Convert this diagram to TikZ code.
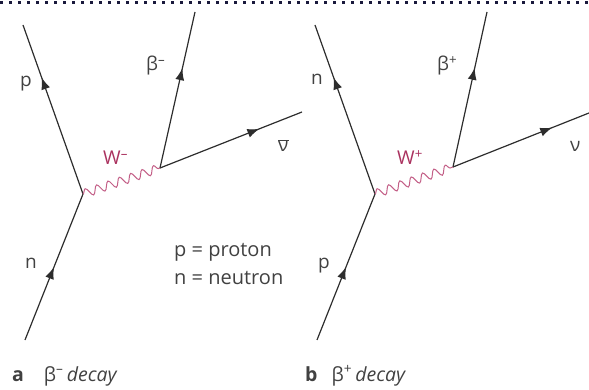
\documentclass[tikz,border=0pt]{standalone}
\usepackage{fontspec}
\setmainfont{Open Sans}
\usetikzlibrary{arrows.meta, decorations.pathmorphing, decorations.markings}
\usepackage{xcolor}
\definecolor{wcol}{RGB}{170,50,95}
\definecolor{wline}{RGB}{195,95,135}
\definecolor{lncol}{RGB}{45,45,45}
\definecolor{txtcol}{RGB}{65,65,65}
\definecolor{dotcol}{RGB}{25,25,60}

\begin{document}
\begin{tikzpicture}[
    x=1pt, y=-1pt,
    fermion/.style={draw=lncol, line width=1.2pt, postaction={decorate},
        decoration={markings, mark=at position #1 with {\arrow{Latex[length=12pt,width=9pt]}}}},
    boson/.style={draw=wline, line width=1pt, decorate,
        decoration={snake, amplitude=4.3pt, segment length=12pt}},
    lbl/.style={font=\fontsize{19}{21}\selectfont, text=txtcol, inner sep=0pt, anchor=base west},
    wlbl/.style={lbl, text=wcol},
    keytxt/.style={lbl, font=\fontsize{20}{22}\selectfont},
    capt/.style={lbl, font=\fontsize{19.5}{22}\selectfont}
]
    \useasboundingbox (0,0) rectangle (589,390);

    % Border
    \coordinate (top-l) at (0,3);
    \coordinate (top-r) at (589,3);
    \draw[dotcol, line width=3pt, dash pattern=on 3pt off 6pt] (top-l) -- (top-r);

    % a: beta minus decay
    \coordinate (a-in) at (25,340);
    \coordinate (a-low) at (83,194);
    \coordinate (a-out) at (23,25);
    \coordinate (a-up) at (160,168);
    \coordinate (a-beta) at (195,12);
    \coordinate (a-nu) at (302,112);

    \draw[fermion=0.5] (a-in) -- (a-low);
    \draw[fermion=0.69] (a-low) -- (a-out);
    \draw[fermion=0.64] (a-up) -- (a-beta);
    \draw[fermion=0.7] (a-up) -- (a-nu);
    \draw[boson] (a-low) -- (a-up);

    \node[lbl] (a-nlbl) at (25,268) {n};
    \node[lbl] (a-plbl) at (20,87) {p};
    \node[lbl] (a-blbl) at (146,71) {β\textsuperscript{–}};
    \node[wlbl] (a-wlbl) at (103,165) {W\textsuperscript{–}};
    \node[lbl] (a-nulbl) at (278,152) {\ensuremath{\overline{\hbox{ν}}}};

    \node[keytxt] (key-p) at (174,257) {p = proton};
    \node[keytxt] (key-n) at (174,284) {n = neutron};
    \node[capt] (a-capt) at (12,381) {\textbf{a}\hspace{20pt}β\textsuperscript{–}\,\textit{decay}};

    % b: beta plus decay
    \coordinate (b-in) at (317,340);
    \coordinate (b-low) at (375,194);
    \coordinate (b-out) at (315,25);
    \coordinate (b-up) at (453,167);
    \coordinate (b-beta) at (487,12);
    \coordinate (b-nu) at (589,113);

    \draw[fermion=0.5] (b-in) -- (b-low);
    \draw[fermion=0.69] (b-low) -- (b-out);
    \draw[fermion=0.64] (b-up) -- (b-beta);
    \draw[fermion=0.73] (b-up) -- (b-nu);
    \draw[boson] (b-low) -- (b-up);

    \node[lbl] (b-plbl) at (318,269) {p};
    \node[lbl] (b-nlbl) at (311,85) {n};
    \node[lbl] (b-blbl) at (437,71) {β\textsuperscript{+}};
    \node[wlbl] (b-wlbl) at (397,165) {W\textsuperscript{+}};
    \node[lbl] (b-nulbl) at (570,152) {ν};

    \node[capt] (b-capt) at (305,381) {\textbf{b}\hspace{14pt}β\textsuperscript{+}\,\textit{decay}};
\end{tikzpicture}
\end{document}
